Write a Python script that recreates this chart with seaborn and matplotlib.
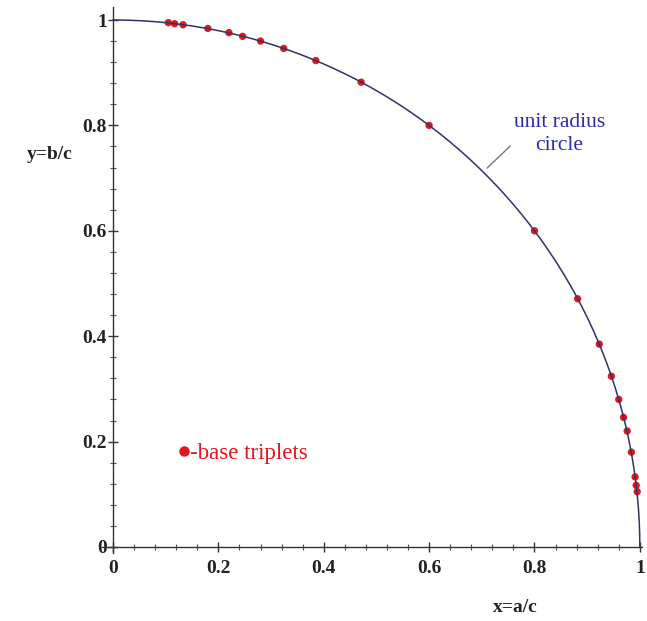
import numpy as np
import pandas as pd
import matplotlib
matplotlib.use("Agg")
import matplotlib.pyplot as plt
import seaborn as sns
from matplotlib.ticker import MultipleLocator, FixedLocator, FixedFormatter
from matplotlib.lines import Line2D

# ---------------------------------------------------------------------------
# Data: primitive (base) Pythagorean triplets as (a/c, b/c)
# ---------------------------------------------------------------------------
x_ratio = [0.105, 0.117, 0.133, 0.180, 0.220, 0.246, 0.280, 0.324, 0.385, 0.471, 0.600,
           0.800, 0.882, 0.923, 0.946, 0.960, 0.969, 0.976, 0.984, 0.991, 0.993, 0.995]
y_ratio = [0.995, 0.993, 0.991, 0.984, 0.976, 0.969, 0.960, 0.946, 0.923, 0.882, 0.800,
           0.600, 0.471, 0.385, 0.324, 0.280, 0.246, 0.220, 0.180, 0.133, 0.117, 0.105]
tick_vals = [0, 0.2, 0.4, 0.6, 0.8, 1.0]
tick_labels = ["0", "0.2", "0.4", "0.6", "0.8", "1"]

df = pd.DataFrame({"x": x_ratio, "y": y_ratio})

# unit circle (reference curve)
theta = np.linspace(0, np.pi / 2, 200)
circle = pd.DataFrame({"x": np.cos(theta), "y": np.sin(theta)})

# ---------------------------------------------------------------------------
# Style
# ---------------------------------------------------------------------------
sns.set_theme(style="white")
plt.rcParams["font.family"] = ["Liberation Serif", "DejaVu Serif"]

line_col = "#2e3566"
dot_col = "#e3161e"
txt_col = "#222222"

fig = plt.figure(figsize=(6.47, 6.21), dpi=100)
ax = fig.add_axes([0.1584, 0.109, 0.8346, 0.880])

sns.scatterplot(data=df, x="x", y="y", ax=ax, color=dot_col, s=28,
                edgecolor="none", zorder=2, legend=False)
sns.lineplot(data=circle, x="x", y="y", ax=ax, sort=False, color=line_col,
             linewidth=1.1, zorder=3, estimator=None)

ax.set_xlim(-0.02, 1.005)
ax.set_ylim(-0.012, 1.025)

for s in ["top", "right"]:
    ax.spines[s].set_visible(False)
for s in ["left", "bottom"]:
    ax.spines[s].set_position(("data", 0))
    ax.spines[s].set_color("#333333")
    ax.spines[s].set_linewidth(1.0)

ax.xaxis.set_major_locator(FixedLocator(tick_vals))
ax.yaxis.set_major_locator(FixedLocator(tick_vals))
ax.xaxis.set_major_formatter(FixedFormatter(tick_labels))
ax.yaxis.set_major_formatter(FixedFormatter(tick_labels))
ax.xaxis.set_minor_locator(MultipleLocator(0.04))
ax.yaxis.set_minor_locator(MultipleLocator(0.04))
ax.tick_params(which="both", bottom=True, left=True, top=False, right=False)
ax.tick_params(which="major", direction="inout", length=7, width=1, color="#333333",
               labelsize=14, labelcolor=txt_col)
ax.tick_params(which="minor", direction="inout", length=4, width=0.8, color="#555555")
ax.tick_params(axis="x", which="major", pad=6)
ax.tick_params(axis="y", which="major", pad=1)
for lab in ax.get_xticklabels() + ax.get_yticklabels():
    lab.set_fontweight("bold")
ax.set_xlabel("")
ax.set_ylabel("")
ax.grid(False)

# axis titles
ax.text(0.763, -0.114, "x=a/c", fontsize=14, fontweight="bold", color=txt_col,
        ha="center", va="center", clip_on=False)
ax.text(-0.12, 0.744, "y=b/c", fontsize=14, fontweight="bold", color=txt_col,
        ha="center", va="center", clip_on=False)

# circle annotation
ax.annotate("unit radius\ncircle", xy=(0.710, 0.719), xytext=(0.847, 0.783),
            fontsize=15.5, color="#2b2ba6", ha="center", va="center",
            multialignment="center", linespacing=1.3,
            arrowprops=dict(arrowstyle="-", color="#777777", lw=1,
                            shrinkA=0, shrinkB=0, relpos=(0.0, 0.3)))

# legend
handle = Line2D([], [], linestyle="none", marker="o", markersize=7.5,
                markerfacecolor=dot_col, markeredgecolor="none")
leg = ax.legend([handle], ["-base triplets"], loc="center left",
                bbox_to_anchor=(0.124, 0.183), frameon=False, handlelength=0.5,
                handletextpad=0.0, borderaxespad=0, prop={"size": 16.5})
for t in leg.get_texts():
    t.set_color(dot_col)

fig.savefig("out.png", dpi=100)
